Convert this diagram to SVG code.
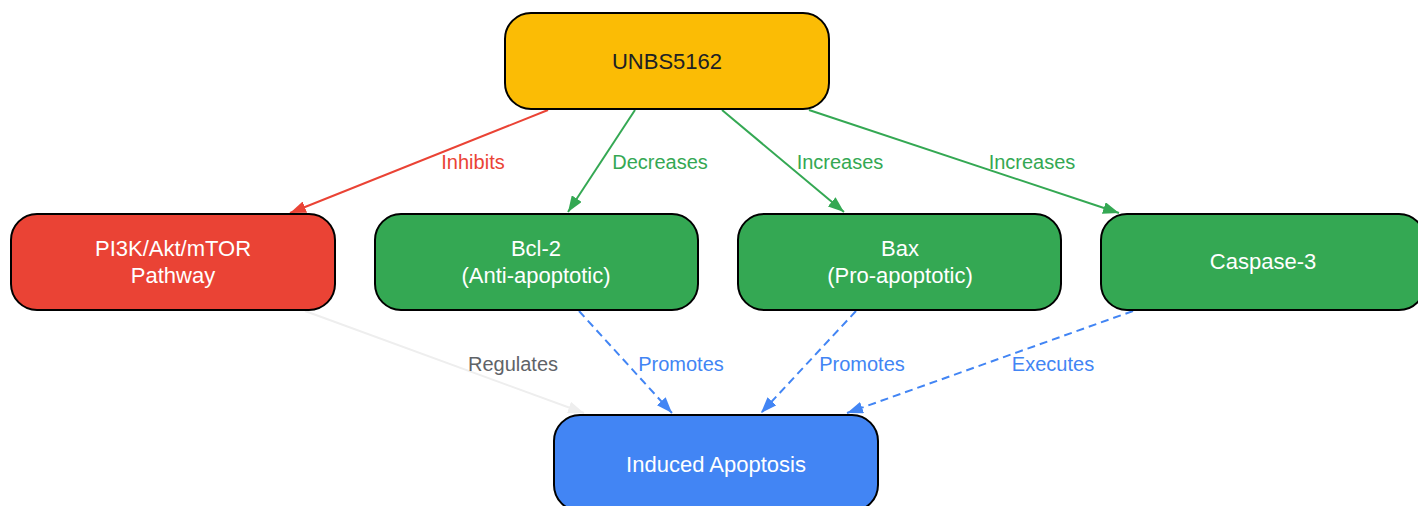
<svg xmlns="http://www.w3.org/2000/svg" width="1418" height="506" viewBox="0 0 1418 506">
<style>
.node rect{stroke:#000;stroke-width:2}
.nt{font-family:"Liberation Sans",Arial,sans-serif;font-size:22px;text-anchor:middle;fill:#fff}
.el{font-family:"Liberation Sans",Arial,sans-serif;font-size:20px;text-anchor:middle}
.e{fill:none;stroke-width:2}
.d{stroke-dasharray:8,5}
</style>
<defs>
<marker id="ar" viewBox="0 0 16 12" refX="16" refY="6" markerWidth="16" markerHeight="12" markerUnits="userSpaceOnUse" orient="auto"><path d="M0,0L16,6L0,12z" fill="#EA4335"/></marker>
<marker id="ag" viewBox="0 0 16 12" refX="16" refY="6" markerWidth="16" markerHeight="12" markerUnits="userSpaceOnUse" orient="auto"><path d="M0,0L16,6L0,12z" fill="#34A853"/></marker>
<marker id="ab" viewBox="0 0 16 12" refX="16" refY="6" markerWidth="16" markerHeight="12" markerUnits="userSpaceOnUse" orient="auto"><path d="M0,0L16,6L0,12z" fill="#4285F4"/></marker>
<marker id="ay" viewBox="0 0 16 12" refX="16" refY="6" markerWidth="16" markerHeight="12" markerUnits="userSpaceOnUse" orient="auto"><path d="M0,0L16,6L0,12z" fill="#eeeeee"/></marker>
</defs>
<g id="connectors">
<path class="e" stroke="#EA4335" d="M548,110L290,213" marker-end="url(#ar)"/>
<text class="el" fill="#EA4335" x="473" y="169">Inhibits</text>
<path class="e" stroke="#34A853" d="M635,110L568,212" marker-end="url(#ag)"/>
<text class="el" fill="#34A853" x="660" y="169">Decreases</text>
<path class="e" stroke="#34A853" d="M722,110L844,212" marker-end="url(#ag)"/>
<text class="el" fill="#34A853" x="840" y="169">Increases</text>
<path class="e" stroke="#34A853" d="M809,110L1119,213" marker-end="url(#ag)"/>
<text class="el" fill="#34A853" x="1032" y="169">Increases</text>
<path class="e" stroke="#eeeeee" d="M305,311L584,413" marker-end="url(#ay)"/>
<text class="el" fill="#5f6368" x="513" y="371">Regulates</text>
<path class="e d" stroke="#4285F4" d="M579,311L672,413" marker-end="url(#ab)"/>
<text class="el" fill="#4285F4" x="681" y="371">Promotes</text>
<path class="e d" stroke="#4285F4" d="M856,311L761,413" marker-end="url(#ab)"/>
<text class="el" fill="#4285F4" x="862" y="371">Promotes</text>
<path class="e d" stroke="#4285F4" d="M1133,311L847,413" marker-end="url(#ab)"/>
<text class="el" fill="#4285F4" x="1053" y="371">Executes</text>
</g>
<g id="unbs" class="node"><rect x="505" y="13" width="324" height="96" rx="26" fill="#FBBC05"/><text class="nt" x="667" y="69" style="fill:#202124">UNBS5162</text></g>
<g id="pi3k" class="node"><rect x="11" y="214" width="324" height="96" rx="26" fill="#EA4335"/><text class="nt" x="173" y="256">PI3K/Akt/mTOR</text><text class="nt" x="173" y="283">Pathway</text></g>
<g id="bcl2" class="node"><rect x="375" y="214" width="323" height="96" rx="26" fill="#34A853"/><text class="nt" x="536" y="256">Bcl-2</text><text class="nt" x="536" y="283">(Anti-apoptotic)</text></g>
<g id="bax" class="node"><rect x="738" y="214" width="323" height="96" rx="26" fill="#34A853"/><text class="nt" x="900" y="256">Bax</text><text class="nt" x="900" y="283">(Pro-apoptotic)</text></g>
<g id="casp3" class="node"><rect x="1101" y="214" width="324" height="96" rx="26" fill="#34A853"/><text class="nt" x="1263" y="269">Caspase-3</text></g>
<g id="apoptosis" class="node"><rect x="554" y="415" width="324" height="96" rx="26" fill="#4285F4"/><text class="nt" x="716" y="472">Induced Apoptosis</text></g>
</svg>
